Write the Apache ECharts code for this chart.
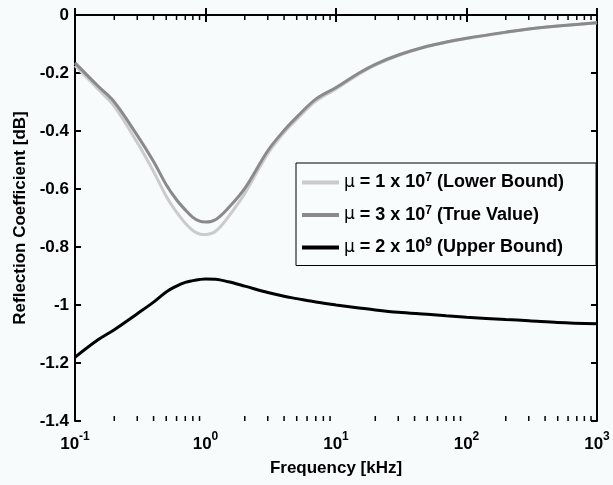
<!DOCTYPE html>
<html>
<head>
<meta charset="utf-8">
<script src="https://cdn.jsdelivr.net/npm/echarts@6/dist/echarts.min.js"></script>
<style>
  html, body { margin: 0; padding: 0; background: #f7fbfc; }
  #chart { width: 613px; height: 485px; }
</style>
</head>
<body>
<div id="chart"></div>
<script>
// frequency samples (kHz) and reflection coefficient (dB)
const freqs = [0.1, 0.15, 0.2, 0.3, 0.4, 0.5, 0.6, 0.7, 0.8, 0.9, 1, 1.2, 1.5, 2, 3, 4, 5, 7, 10, 15, 20, 30, 50, 70, 100, 200, 300, 500, 1000];
const lowerBound = [-0.175, -0.255, -0.315, -0.44, -0.54, -0.625, -0.68, -0.718, -0.743, -0.755, -0.757, -0.745, -0.695, -0.615, -0.478, -0.405, -0.36, -0.297, -0.255, -0.204, -0.173, -0.14, -0.109, -0.094, -0.081, -0.06, -0.048, -0.038, -0.027];
const trueValue = [-0.165, -0.245, -0.3, -0.415, -0.505, -0.585, -0.637, -0.672, -0.698, -0.711, -0.714, -0.705, -0.665, -0.598, -0.468, -0.398, -0.352, -0.29, -0.25, -0.2, -0.17, -0.138, -0.108, -0.093, -0.08, -0.059, -0.048, -0.038, -0.027];
const upperBound = [-1.18, -1.12, -1.085, -1.03, -0.99, -0.955, -0.935, -0.922, -0.916, -0.912, -0.91, -0.911, -0.92, -0.935, -0.957, -0.97, -0.978, -0.99, -1.0, -1.01, -1.017, -1.025, -1.032, -1.037, -1.042, -1.05, -1.054, -1.06, -1.065];

const seriesNames = ['μ = 1 x 10^7 (Lower Bound)', 'μ = 3 x 10^7 (True Value)', 'μ = 2 x 10^9 (Upper Bound)'];
const seriesColors = ['#cbcbcb', '#8a8a8a', '#000000'];

// log axis minor ticks (2..9 in every decade)
const decades = [0.1, 1, 10, 100];
const minorSteps = [2, 3, 4, 5, 6, 7, 8, 9];

const yMin = -1.4, yMax = 0;
const FONT = '"Liberation Sans", Arial, sans-serif';

const chart = echarts.init(document.getElementById('chart'));

const pairs = (ys) => freqs.map((f, i) => [f, ys[i]]);
const minorX = [];
decades.forEach((d) => minorSteps.forEach((k) => minorX.push(+(d * k).toPrecision(3))));

// "μ = 1 x 10^7 (...)" -> rich text with superscript
const legendFmt = (name) => {
  const m = name.match(/^μ(.*?)\^(\d+)(.*)$/);
  return '{mu|μ}' + m[1] + '{sup|' + m[2] + '}' + m[3];
};

const lineSeries = [lowerBound, trueValue, upperBound].map((ys, i) => ({
  name: seriesNames[i],
  type: 'line',
  data: pairs(ys),
  smooth: 0.35,
  showSymbol: false,
  color: seriesColors[i],
  lineStyle: { width: 3, color: seriesColors[i] },
  xAxisIndex: 0,
  yAxisIndex: 0,
  z: 3 + i,
}));

// short inward ticks on top and bottom frame at the minor log positions
const minorTickSeries = {
  type: 'custom',
  silent: true,
  clip: false,
  z: 10,
  data: minorX.map((x) => [x]),
  renderItem: (params, api) => {
    const bottom = api.coord([api.value(0), yMin]);
    const top = api.coord([api.value(0), yMax]);
    const style = { stroke: '#000', lineWidth: 1.5 };
    return {
      type: 'group',
      children: [
        { type: 'line', shape: { x1: bottom[0], y1: bottom[1], x2: bottom[0], y2: bottom[1] - 5 }, style },
        { type: 'line', shape: { x1: top[0], y1: top[1], x2: top[0], y2: top[1] + 5 }, style },
      ],
    };
  },
};

const xBase = {
  type: 'log',
  logBase: 10,
  min: 0.1,
  max: 1000,
  interval: 1,
  axisLine: { lineStyle: { color: '#000', width: 2 } },
  axisTick: { inside: true, length: 7, lineStyle: { color: '#000', width: 2 } },
  splitLine: { show: false },
};
const yBase = {
  type: 'value',
  min: yMin,
  max: yMax,
  interval: 0.2,
  axisLine: { show: true, lineStyle: { color: '#000', width: 2 } },
  axisTick: { show: true, inside: true, length: 6, lineStyle: { color: '#000', width: 2 } },
  splitLine: { show: false },
};

chart.setOption({
  backgroundColor: '#f7fbfc',
  animation: false,
  grid: { left: 75, right: 16, top: 15, bottom: 64 },
  legend: {
    orient: 'vertical',
    left: 296,
    top: 163,
    data: seriesNames,
    icon: 'rect',
    itemWidth: 37,
    itemHeight: 4,
    itemGap: 13,
    padding: [9, 32, 9, 6],
    backgroundColor: '#f9fcfd',
    borderColor: '#000',
    borderWidth: 1,
    borderRadius: 0,
    formatter: legendFmt,
    textStyle: {
      fontFamily: FONT,
      fontWeight: 'bold',
      fontSize: 18,
      color: '#000',
      rich: {
        mu: { fontFamily: '"DejaVu Sans", sans-serif', fontSize: 17, fontWeight: 'normal', color: '#000' },
        sup: { fontFamily: FONT, fontWeight: 'bold', fontSize: 12, color: '#000', verticalAlign: 'bottom', padding: [0, 0, 9, 0] },
      },
    },
  },
  xAxis: [
    Object.assign({}, xBase, {
      position: 'bottom',
      name: 'Frequency [kHz]',
      nameLocation: 'middle',
      nameGap: 39,
      nameTextStyle: { fontFamily: FONT, fontWeight: 'bold', fontSize: 17, color: '#000' },
      axisLabel: {
        margin: 10,
        formatter: (v) => '{b|10}{s|' + Math.round(Math.log10(v)) + '}',
        rich: {
          b: { fontFamily: FONT, fontWeight: 'bold', fontSize: 17, color: '#000', verticalAlign: 'bottom' },
          s: { fontFamily: FONT, fontWeight: 'bold', fontSize: 12, color: '#000', verticalAlign: 'bottom', padding: [0, 0, 10, 0] },
        },
      },
    }),
    Object.assign({}, xBase, { position: 'top', axisLabel: { show: false } }),
  ],
  yAxis: [
    Object.assign({}, yBase, {
      position: 'left',
      name: 'Reflection Coefficient [dB]',
      nameLocation: 'middle',
      nameGap: 46,
      nameTextStyle: { fontFamily: FONT, fontWeight: 'bold', fontSize: 17, color: '#000' },
      axisLabel: {
        margin: 6,
        fontFamily: FONT,
        fontWeight: 'bold',
        fontSize: 17,
        color: '#000',
        formatter: (v) => String(parseFloat(v.toFixed(1))),
      },
    }),
    Object.assign({}, yBase, { position: 'right', axisLabel: { show: false } }),
  ],
  series: lineSeries.concat([minorTickSeries]),
});
</script>
</body>
</html>
